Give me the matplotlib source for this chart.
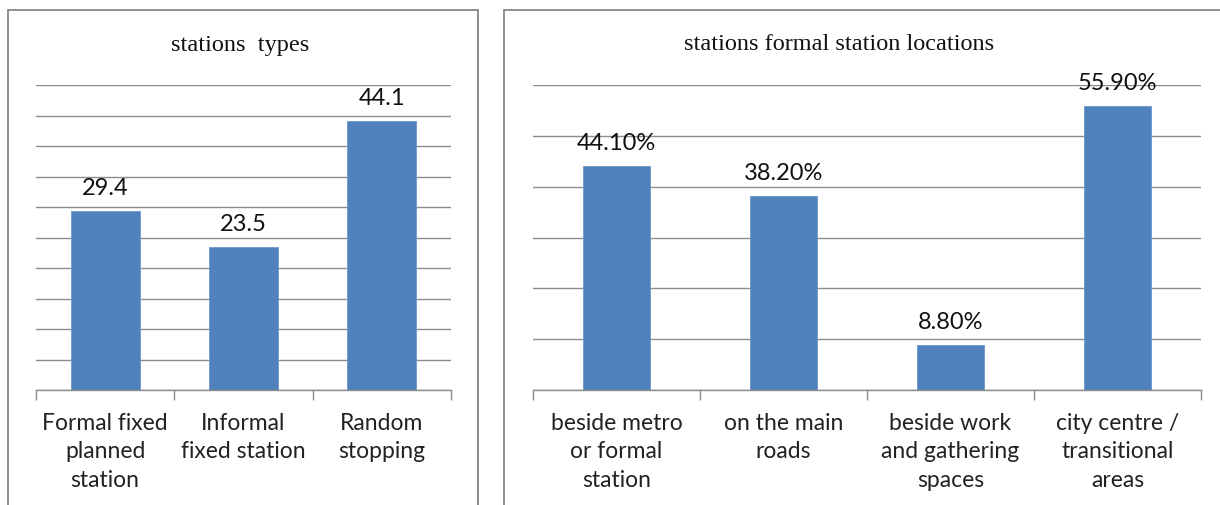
import matplotlib.pyplot as plt
import numpy as np
from matplotlib.patches import Rectangle

# ------- DATA -------
types_labels = ["Formal fixed\nplanned\nstation", "Informal\nfixed station", "Random\nstopping"]
types_values = [29.4, 23.5, 44.1]
types_text = ["29.4", "23.5", "44.1"]

loc_labels = ["beside metro\nor formal\nstation", "on the main\nroads",
              "beside work\nand gathering\nspaces", "city centre /\ntransitional\nareas"]
loc_values = [44.1, 38.2, 8.8, 55.9]
loc_text = ["44.10%", "38.20%", "8.80%", "55.90%"]

BAR = "#4F81BD"
GRID = "#8C8C8C"
SANS = ["Lato", "DejaVu Sans"]
SERIF = ["Liberation Serif", "DejaVu Serif"]

W, H = 1220, 506
fig = plt.figure(figsize=(W / 100, H / 100), dpi=100)


def px_axes(x0, x1, y_top, y_base):
    return fig.add_axes([x0 / W, (H - y_base) / H, (x1 - x0) / W, (y_base - y_top) / H])


def draw(ax, labels, values, texts, top, step, width, title, title_x):
    n = len(values)
    xpos = np.arange(n)
    ax.bar(xpos, values, width, color=BAR, edgecolor="#6F97CC", linewidth=0.6, zorder=3)
    ax.set_xlim(-0.5, n - 0.5)
    ax.set_ylim(0, top)
    ax.set_yticks(np.arange(0, top + step / 2, step))
    ax.yaxis.grid(True, color=GRID, linewidth=1.0)
    ax.tick_params(axis="y", left=False, labelleft=False)
    for s in ["left", "top", "right"]:
        ax.spines[s].set_visible(False)
    ax.spines["bottom"].set_color(GRID)
    ax.spines["bottom"].set_linewidth(1.0)
    ax.spines["bottom"].set_zorder(4)
    ax.set_xticks(xpos)
    ax.set_xticklabels(labels, fontsize=16.5, family=SANS, color="#222222", linespacing=1.42)
    ax.tick_params(axis="x", which="major", length=0, pad=16)
    ax.set_xticks(np.arange(-0.5, n, 1.0), minor=True)
    ax.tick_params(axis="x", which="minor", length=7, color=GRID, width=1.0)
    for x, v, t in zip(xpos, values, texts):
        ax.annotate(t, (x, v), xytext=(0, 17), textcoords="offset points",
                    ha="center", va="center", fontsize=17, family=SANS, color="#111111")
    fig.text(title_x / W, 1 - 45 / H, title, ha="center", va="center",
             fontsize=17.5, family=SERIF, color="#111111")


ax1 = px_axes(36, 451, 86, 391)
draw(ax1, types_labels, types_values, types_text, 50, 5, 0.5, "stations  types", 240)

ax2 = px_axes(533, 1201, 86, 391)
draw(ax2, loc_labels, loc_values, loc_text, 60, 10, 0.4, "stations formal station locations", 839)

# panel borders
fig.patches.append(Rectangle((8 / W, -0.05), 470 / W, 1.05 - 11 / H, transform=fig.transFigure,
                             fill=False, edgecolor="#868686", linewidth=1.3))
fig.patches.append(Rectangle((504 / W, -0.05), 0.6, 1.05 - 11 / H, transform=fig.transFigure,
                             fill=False, edgecolor="#868686", linewidth=1.3))

fig.savefig("out.png", dpi=100)
